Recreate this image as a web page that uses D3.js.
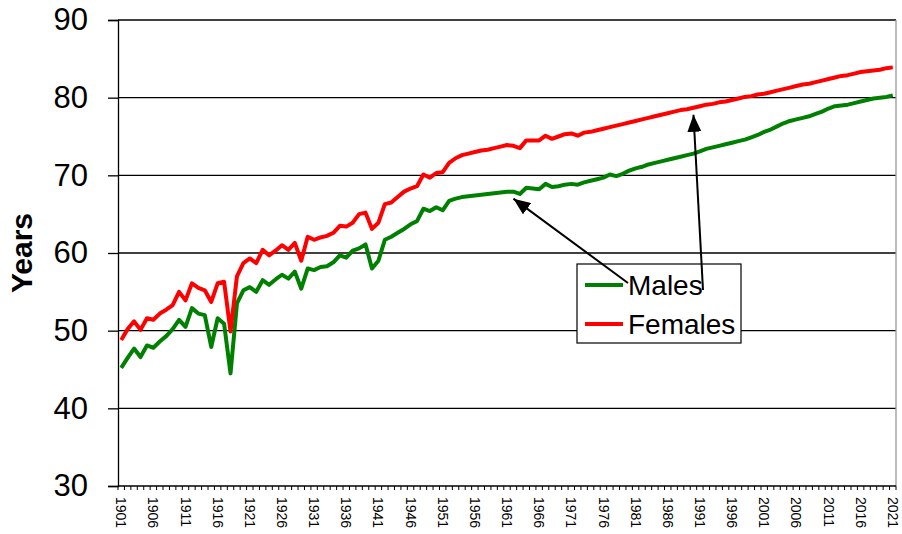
<!DOCTYPE html>
<html>
<head>
<meta charset="utf-8">
<script src="https://cdn.jsdelivr.net/npm/d3@7"></script>
<style>
  body { margin: 0; background: #fff; }
  svg { font-family: "Liberation Sans", Arial, sans-serif; }
</style>
</head>
<body>
<svg id="chart" width="902" height="534"></svg>
<script>
const years = d3.range(1901, 2022);
const yTicks = [30, 40, 50, 60, 70, 80, 90];
const labelYears = years.filter(y => (y - 1901) % 5 === 0);

const males = [
  45.2, 46.5, 47.7, 46.6, 48.1, 47.8, 48.6, 49.3, 50.2, 51.4,
  50.5, 52.9, 52.2, 52.0, 47.9, 51.6, 50.9, 44.5, 53.5, 55.2,
  55.6, 55.0, 56.5, 55.9, 56.6, 57.2, 56.7, 57.6, 55.4, 58.0,
  57.8, 58.2, 58.3, 58.8, 59.7, 59.4, 60.3, 60.6, 61.1, 58.0,
  59.0, 61.7, 62.1, 62.6, 63.1, 63.7, 64.1, 65.7, 65.4, 65.9,
  65.5, 66.7, 67.0, 67.2, 67.3, 67.4, 67.5, 67.6, 67.7, 67.8,
  67.9, 67.9, 67.6, 68.4, 68.3, 68.2, 68.9, 68.5, 68.6, 68.8,
  68.9, 68.8, 69.1, 69.3, 69.5, 69.7, 70.1, 69.9, 70.2, 70.6,
  70.9, 71.1, 71.4, 71.6, 71.8, 72.0, 72.2, 72.4, 72.6, 72.8,
  73.1, 73.4, 73.6, 73.8, 74.0, 74.2, 74.4, 74.6, 74.9, 75.2,
  75.6, 75.9, 76.3, 76.7, 77.0, 77.2, 77.4, 77.6, 77.9, 78.2,
  78.6, 78.9, 79.0, 79.1, 79.3, 79.5, 79.7, 79.9, 80.0, 80.1,
  80.3
];

const females = [
  48.8, 50.2, 51.2, 50.1, 51.6, 51.4, 52.2, 52.7, 53.3, 55.0,
  53.9, 56.1, 55.5, 55.2, 53.7, 56.1, 56.3, 49.9, 57.0, 58.7,
  59.3, 58.7, 60.4, 59.7, 60.3, 61.0, 60.4, 61.3, 59.0, 62.1,
  61.7, 62.0, 62.2, 62.6, 63.5, 63.4, 63.9, 65.0, 65.2, 63.1,
  63.9, 66.3, 66.5, 67.2, 67.9, 68.3, 68.6, 70.1, 69.7, 70.3,
  70.4, 71.6, 72.2, 72.6, 72.8, 73.0, 73.2, 73.3, 73.5, 73.7,
  73.9, 73.8, 73.5, 74.5, 74.5, 74.5, 75.1, 74.7, 75.0, 75.3,
  75.4, 75.1, 75.5, 75.6, 75.8, 76.0, 76.2, 76.4, 76.6, 76.8,
  77.0, 77.2, 77.4, 77.6, 77.8, 78.0, 78.2, 78.4, 78.5, 78.7,
  78.9, 79.1, 79.2, 79.4, 79.5, 79.7, 79.9, 80.1, 80.2, 80.4,
  80.5, 80.7, 80.9, 81.1, 81.3, 81.5, 81.7, 81.8, 82.0, 82.2,
  82.4, 82.6, 82.8, 82.9, 83.1, 83.3, 83.4, 83.5, 83.6, 83.8,
  83.9
];

const series = [
  {name: "Males", values: males, color: "#008000"},
  {name: "Females", values: females, color: "#ff0000"}
];

const margin = {top: 20, right: 6, bottom: 48, left: 118};
const width = 902, height = 534;

const svg = d3.select("#chart");

const x = d3.scaleBand().domain(years).range([margin.left, width - margin.right]).padding(0);
const y = d3.scaleLinear().domain([30, 90]).range([height - margin.bottom, margin.top]);
const cx = yr => x(yr) + x.bandwidth() / 2;

// gridlines
svg.append("g")
  .selectAll("line")
  .data(yTicks.filter(d => d > 30))
  .join("line")
  .attr("x1", margin.left)
  .attr("x2", width - margin.right)
  .attr("y1", d => y(d))
  .attr("y2", d => y(d))
  .attr("stroke", "#000")
  .attr("stroke-width", 1.3);

// right border of plot area
svg.append("line")
  .attr("x1", width - margin.right).attr("x2", width - margin.right)
  .attr("y1", margin.top).attr("y2", height - margin.bottom)
  .attr("stroke", "#999").attr("stroke-width", 1.3);

// y axis
const yAxis = svg.append("g")
  .attr("transform", `translate(${margin.left},0)`)
  .call(d3.axisLeft(y).tickValues(yTicks).tickSize(10).tickPadding(20).tickFormat(d3.format("d")));
yAxis.select(".domain").attr("stroke", "#000").attr("stroke-width", 1.3);
yAxis.selectAll(".tick line").attr("stroke", "#000").attr("stroke-width", 1.3);
yAxis.selectAll("text").attr("font-size", 31).attr("fill", "#000").attr("font-family", "Liberation Sans, Arial, sans-serif");

svg.append("text")
  .attr("transform", `translate(32,${(margin.top + height - margin.bottom) / 2}) rotate(-90)`)
  .attr("text-anchor", "middle")
  .attr("font-size", 30)
  .attr("font-weight", "bold")
  .text("Years");

// x axis
const xAxis = svg.append("g")
  .attr("transform", `translate(0,${height - margin.bottom})`)
  .call(d3.axisBottom(x).tickValues(labelYears).tickSize(0).tickPadding(0));
xAxis.select(".domain").remove();
xAxis.selectAll("text")
  .attr("font-size", 14)
  .attr("fill", "#000")
  .attr("font-family", "Liberation Sans, Arial, sans-serif")
  .attr("text-anchor", "start")
  .attr("transform", "translate(0,11) rotate(90)")
  .attr("x", 0).attr("y", 0).attr("dy", "0.35em");

svg.append("line")
  .attr("x1", margin.left).attr("x2", width - margin.right)
  .attr("y1", y(30)).attr("y2", y(30))
  .attr("stroke", "#000").attr("stroke-width", 1.3);

svg.append("g")
  .selectAll("line")
  .data(years.concat([null]))
  .join("line")
  .attr("x1", d => d === null ? width - margin.right : x(d))
  .attr("x2", d => d === null ? width - margin.right : x(d))
  .attr("y1", y(30))
  .attr("y2", y(30) + 4)
  .attr("stroke", "#000")
  .attr("stroke-width", 1);

// lines
const line = d3.line()
  .x((d, i) => cx(years[i]))
  .y(d => y(d));

svg.append("g")
  .selectAll("path")
  .data(series)
  .join("path")
  .attr("fill", "none")
  .attr("stroke", d => d.color)
  .attr("stroke-width", 4)
  .attr("stroke-linejoin", "round")
  .attr("d", d => line(d.values));

// legend
const legend = svg.append("g").attr("transform", "translate(577,264)");
legend.append("rect")
  .attr("width", 164).attr("height", 79)
  .attr("fill", "#fff").attr("stroke", "#000").attr("stroke-width", 1.2);
const item = legend.selectAll("g.item")
  .data(series)
  .join("g")
  .attr("class", "item")
  .attr("transform", (d, i) => `translate(0,${21 + i * 39})`);
item.append("line")
  .attr("x1", 8).attr("x2", 46)
  .attr("stroke", d => d.color).attr("stroke-width", 4);
item.append("text")
  .attr("x", 51).attr("dy", "0.35em")
  .attr("font-size", 28)
  .text(d => d.name);

// arrows
svg.append("defs").append("marker")
  .attr("id", "head")
  .attr("viewBox", "0 -7 17 14")
  .attr("refX", 17).attr("refY", 0)
  .attr("markerWidth", 17).attr("markerHeight", 14)
  .attr("markerUnits", "userSpaceOnUse")
  .attr("orient", "auto")
  .append("path")
  .attr("d", "M0,-7L17,0L0,7Z")
  .attr("fill", "#000");

const arrows = [
  {from: [628, 283], year: 1962, values: males},
  {from: [703, 290], year: 1990, values: females}
];
svg.append("g")
  .selectAll("line")
  .data(arrows)
  .join("line")
  .attr("x1", d => d.from[0])
  .attr("y1", d => d.from[1])
  .attr("x2", d => cx(d.year))
  .attr("y2", d => y(d.values[d.year - 1901]) + 7)
  .attr("stroke", "#000")
  .attr("stroke-width", 2)
  .attr("marker-end", "url(#head)");
</script>
</body>
</html>
